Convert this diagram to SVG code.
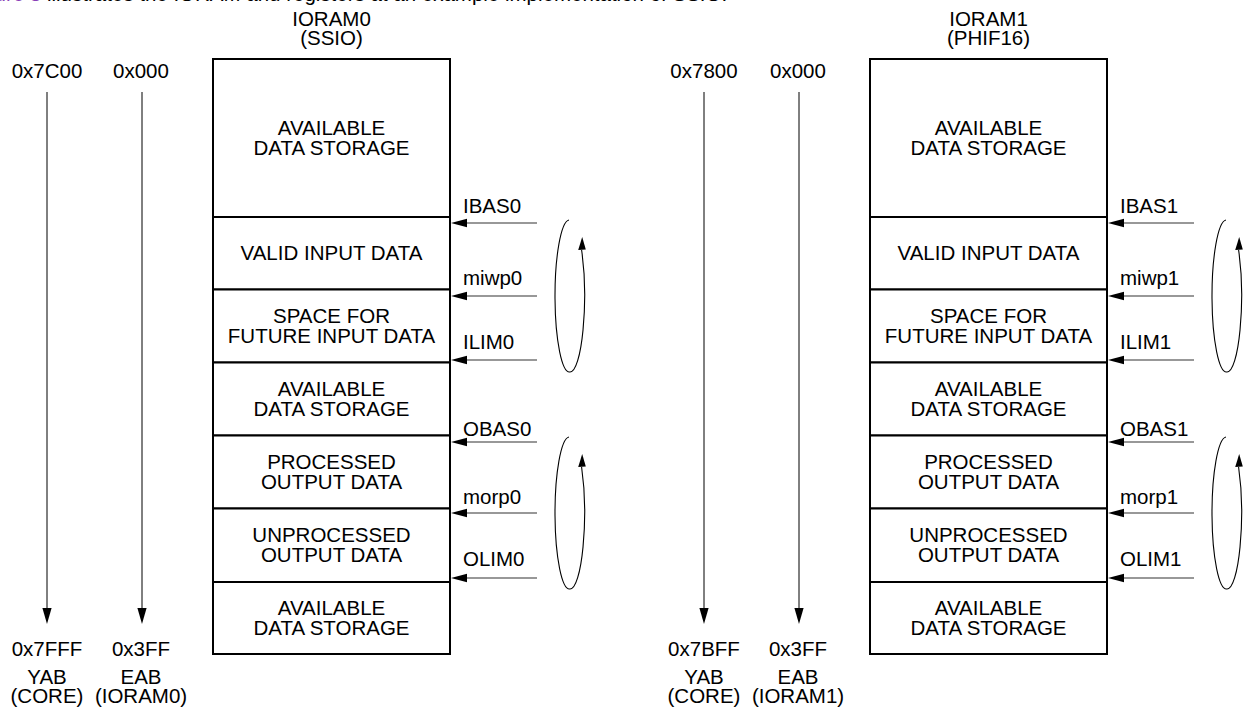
<svg xmlns="http://www.w3.org/2000/svg" width="1247" height="712" viewBox="0 0 1247 712">
  <style>
    text { font-family: "Liberation Sans", Arial, sans-serif; font-size: 20.5px; fill: #000; }
    .c { text-anchor: middle; }
    .sec { fill: #fff; stroke: #000; stroke-width: 2; }
    .ptr { stroke: #333; stroke-width: 1.2; fill: none; }
    .bus { stroke: #000; stroke-width: 1; fill: none; }
    .loop { stroke: #000; stroke-width: 1.1; fill: none; }
    .head { fill: #000; }
    .link { fill: #8a3fb8; }
  </style>
  <defs>
    <!-- pointer arrow entering the memory map from the right -->
    <g id="ptrArrow">
      <line class="ptr" x1="537" y1="0" x2="465" y2="0"/>
      <polygon class="head" points="451,0 467,-4.2 467,4.2"/>
    </g>
    <!-- circular-buffer wrap indicator -->
    <g id="wrapLoop">
      <path class="loop" d="M569,0 A14.5,76 0 0 0 570,152 A14.5,76 0 0 0 581.6,30"/>
      <polygon class="head" points="582.2,17 578.2,30 585.8,29.4"/>
    </g>
    <!-- address bus arrow -->
    <g id="busArrow">
      <line class="bus" x1="0" y1="92" x2="0" y2="610"/>
      <polygon class="head" points="0,624 -4.6,608 4.6,608"/>
    </g>
  </defs>

  <!-- running text above the figure -->
  <text x="-34" y="1"><tspan class="link">Figure 3</tspan> illustrates the IORAM and registers at an example implementation of SSIO.</text>

  <!-- ===== IORAM0 (SSIO) ===== -->
  <g id="ioram0-map">
    <g id="ioram0-title">
      <text class="c" x="331.5" y="26">IORAM0</text>
      <text class="c" x="331.5" y="45">(SSIO)</text>
    </g>
    <g id="yab0">
      <text class="c" x="47" y="78">0x7C00</text>
      <text class="c" x="47" y="656">0x7FFF</text>
      <text class="c" x="47" y="684">YAB</text>
      <text class="c" x="47" y="703">(CORE)</text>
    </g>
    <g id="eab0">
      <text class="c" x="141" y="78">0x000</text>
      <text class="c" x="141" y="656">0x3FF</text>
      <text class="c" x="141" y="684">EAB</text>
      <text class="c" x="141" y="703">(IORAM0)</text>
    </g>
    <g id="s0-avail-top">
      <rect class="sec" x="213" y="59" width="237" height="158"/>
      <text class="c" x="331.5" y="135">AVAILABLE</text>
      <text class="c" x="331.5" y="155">DATA STORAGE</text>
    </g>
    <g id="s0-valid-input">
      <rect class="sec" x="213" y="217" width="237" height="72.5"/>
      <text class="c" x="331.5" y="260">VALID INPUT DATA</text>
    </g>
    <g id="s0-future-input">
      <rect class="sec" x="213" y="289.5" width="237" height="73"/>
      <text class="c" x="331.5" y="323">SPACE FOR</text>
      <text class="c" x="331.5" y="343">FUTURE INPUT DATA</text>
    </g>
    <g id="s0-avail-mid">
      <rect class="sec" x="213" y="362.5" width="237" height="73"/>
      <text class="c" x="331.5" y="396">AVAILABLE</text>
      <text class="c" x="331.5" y="416">DATA STORAGE</text>
    </g>
    <g id="s0-processed">
      <rect class="sec" x="213" y="435.5" width="237" height="73"/>
      <text class="c" x="331.5" y="469">PROCESSED</text>
      <text class="c" x="331.5" y="489">OUTPUT DATA</text>
    </g>
    <g id="s0-unprocessed">
      <rect class="sec" x="213" y="508.5" width="237" height="73.5"/>
      <text class="c" x="331.5" y="542">UNPROCESSED</text>
      <text class="c" x="331.5" y="562">OUTPUT DATA</text>
    </g>
    <g id="s0-avail-bottom">
      <rect class="sec" x="213" y="582" width="237" height="72"/>
      <text class="c" x="331.5" y="615">AVAILABLE</text>
      <text class="c" x="331.5" y="635">DATA STORAGE</text>
    </g>
    <g id="reg0-labels">
      <text x="463" y="213">IBAS0</text>
      <text x="463" y="285">miwp0</text>
      <text x="463" y="349">ILIM0</text>
      <text x="463" y="436">OBAS0</text>
      <text x="463" y="504">morp0</text>
      <text x="463" y="566">OLIM0</text>
    </g>
    <g id="connectors0">
      <use href="#busArrow" x="47" y="0"/>
      <use href="#busArrow" x="142" y="0"/>
      <use href="#ptrArrow" x="0" y="223"/>
      <use href="#ptrArrow" x="0" y="296"/>
      <use href="#ptrArrow" x="0" y="360"/>
      <use href="#ptrArrow" x="0" y="442"/>
      <use href="#ptrArrow" x="0" y="513"/>
      <use href="#ptrArrow" x="0" y="578"/>
      <use href="#wrapLoop" x="0" y="220"/>
      <use href="#wrapLoop" x="0" y="437"/>
    </g>
  </g>

  <!-- ===== IORAM1 (PHIF16) ===== -->
  <g id="ioram1-map" transform="translate(657,0)">
    <g id="ioram1-title">
      <text class="c" x="331.5" y="26">IORAM1</text>
      <text class="c" x="331.5" y="45">(PHIF16)</text>
    </g>
    <g id="yab1">
      <text class="c" x="47" y="78">0x7800</text>
      <text class="c" x="47" y="656">0x7BFF</text>
      <text class="c" x="47" y="684">YAB</text>
      <text class="c" x="47" y="703">(CORE)</text>
    </g>
    <g id="eab1">
      <text class="c" x="141" y="78">0x000</text>
      <text class="c" x="141" y="656">0x3FF</text>
      <text class="c" x="141" y="684">EAB</text>
      <text class="c" x="141" y="703">(IORAM1)</text>
    </g>
    <g id="s1-avail-top">
      <rect class="sec" x="213" y="59" width="237" height="158"/>
      <text class="c" x="331.5" y="135">AVAILABLE</text>
      <text class="c" x="331.5" y="155">DATA STORAGE</text>
    </g>
    <g id="s1-valid-input">
      <rect class="sec" x="213" y="217" width="237" height="72.5"/>
      <text class="c" x="331.5" y="260">VALID INPUT DATA</text>
    </g>
    <g id="s1-future-input">
      <rect class="sec" x="213" y="289.5" width="237" height="73"/>
      <text class="c" x="331.5" y="323">SPACE FOR</text>
      <text class="c" x="331.5" y="343">FUTURE INPUT DATA</text>
    </g>
    <g id="s1-avail-mid">
      <rect class="sec" x="213" y="362.5" width="237" height="73"/>
      <text class="c" x="331.5" y="396">AVAILABLE</text>
      <text class="c" x="331.5" y="416">DATA STORAGE</text>
    </g>
    <g id="s1-processed">
      <rect class="sec" x="213" y="435.5" width="237" height="73"/>
      <text class="c" x="331.5" y="469">PROCESSED</text>
      <text class="c" x="331.5" y="489">OUTPUT DATA</text>
    </g>
    <g id="s1-unprocessed">
      <rect class="sec" x="213" y="508.5" width="237" height="73.5"/>
      <text class="c" x="331.5" y="542">UNPROCESSED</text>
      <text class="c" x="331.5" y="562">OUTPUT DATA</text>
    </g>
    <g id="s1-avail-bottom">
      <rect class="sec" x="213" y="582" width="237" height="72"/>
      <text class="c" x="331.5" y="615">AVAILABLE</text>
      <text class="c" x="331.5" y="635">DATA STORAGE</text>
    </g>
    <g id="reg1-labels">
      <text x="463" y="213">IBAS1</text>
      <text x="463" y="285">miwp1</text>
      <text x="463" y="349">ILIM1</text>
      <text x="463" y="436">OBAS1</text>
      <text x="463" y="504">morp1</text>
      <text x="463" y="566">OLIM1</text>
    </g>
    <g id="connectors1">
      <use href="#busArrow" x="47" y="0"/>
      <use href="#busArrow" x="142" y="0"/>
      <use href="#ptrArrow" x="0" y="223"/>
      <use href="#ptrArrow" x="0" y="296"/>
      <use href="#ptrArrow" x="0" y="360"/>
      <use href="#ptrArrow" x="0" y="442"/>
      <use href="#ptrArrow" x="0" y="513"/>
      <use href="#ptrArrow" x="0" y="578"/>
      <use href="#wrapLoop" x="0" y="220"/>
      <use href="#wrapLoop" x="0" y="437"/>
    </g>
  </g>
</svg>
